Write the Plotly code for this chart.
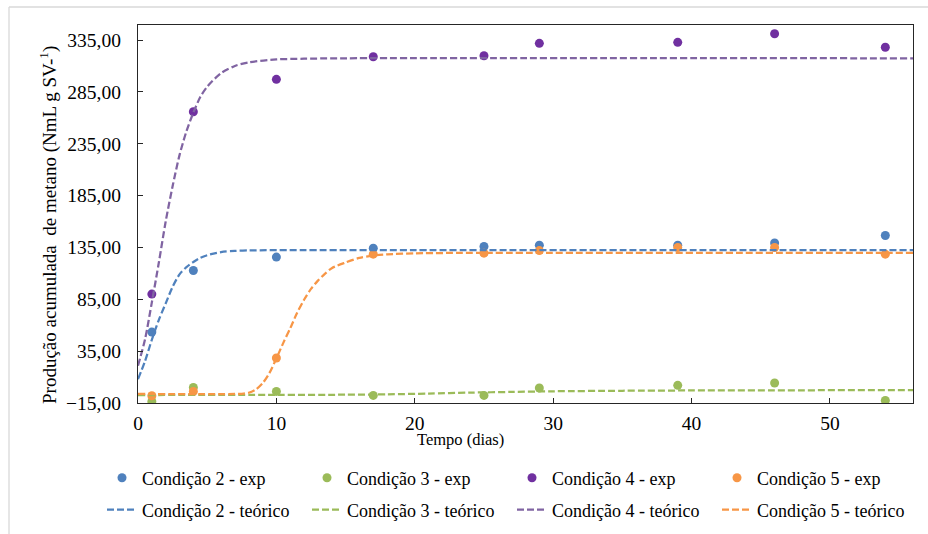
import plotly.graph_objects as go

# ---------------- data ----------------
dias = [1, 4, 10, 17, 25, 29, 39, 46, 54]

exp_c2 = [53.4, 112.8, 125.7, 134.3, 135.9, 137.2, 137.2, 139.4, 146.5]
exp_c3 = [-13.5, 0.0, -3.8, -7.7, -7.7, -0.5, 2.0, 4.3, -12.5]
exp_c4 = [90.0, 265.9, 297.1, 318.9, 319.9, 331.8, 332.8, 341.1, 328.0]
exp_c5 = [-8.0, -3.8, 28.4, 128.5, 129.5, 132.0, 134.9, 134.9, 128.5]

t_c2 = [0, 0.5, 1, 1.5, 2, 2.5, 3, 3.5, 4, 4.5, 5, 6, 7, 8, 10, 20, 56]
teo_c2 = [8, 25, 46, 65, 81, 97, 109, 116, 121, 125, 127.5, 130.5, 131.7, 132.1, 132.4, 132.4, 132.4]

t_c3 = [0, 10, 15, 18, 21, 24, 27, 30, 35, 40, 56]
teo_c3 = [-7.3, -7.2, -7.0, -6.6, -5.9, -5.0, -4.3, -3.7, -3.2, -2.9, -2.6]

t_c4 = [0, 0.5, 1, 1.5, 2, 2.5, 3, 3.5, 4, 4.5, 5, 6, 7, 8, 10, 12, 15, 56]
teo_c4 = [21, 46, 82, 120, 160, 194, 224, 247, 265, 280, 290, 303, 310, 313.5, 316.3, 317, 317.4, 317.4]

t_c5 = [0, 7, 7.5, 8, 8.5, 9, 9.5, 10, 10.5, 11, 11.5, 12, 12.5, 13, 13.5, 14, 15, 16, 17, 18, 20, 23, 56]
teo_c5 = [-6.3, -6.3, -6.1, -5.1, -2.1, 4, 14, 28, 43, 57, 72, 84.5, 95, 103, 109.5, 115, 120.5, 125, 127.2,
          128.3, 129.3, 129.7, 129.8]

nomes_exp = ["Condição 2 - exp", "Condição 3 - exp", "Condição 4 - exp", "Condição 5 - exp"]
nomes_teo = ["Condição 2 - teórico", "Condição 3 - teórico", "Condição 4 - teórico", "Condição 5 - teórico"]

y_ticks = [-15, 35, 85, 135, 185, 235, 285, 335]
x_ticks = [0, 10, 20, 30, 40, 50]

# ---------------- styling ----------------
cor_pts = ["#4F81BD", "#9BBB59", "#7030A0", "#F79646"]
cor_lin = ["#4F81BD", "#9BBB59", "#8064A2", "#F79646"]
FONT = "Liberation Serif, Times New Roman, serif"

fig = go.Figure()

for nome, ys, c in zip(nomes_exp, [exp_c2, exp_c3, exp_c4, exp_c5], cor_pts):
    fig.add_trace(go.Scatter(x=dias, y=ys, mode="markers", name=nome, legend="legend",
                             marker=dict(color=c, size=9, line=dict(width=0))))

for nome, ts, ys, c in zip(nomes_teo, [t_c2, t_c3, t_c4, t_c5],
                           [teo_c2, teo_c3, teo_c4, teo_c5], cor_lin):
    fig.add_trace(go.Scatter(x=ts, y=ys, mode="lines", name=nome, legend="legend2",
                             line=dict(color=c, width=2.25, dash="7px,3px",
                                       shape="spline", smoothing=0.8)))

L, R, T, B = 138, 15, 25, 131
W, H = 928, 534
pw = W - L - R
ph = H - T - B


def px_x(p):
    return (p - L) / pw


def px_y(p):
    return (H - B - p) / ph


leg_common = dict(orientation="h", xanchor="left", yanchor="middle",
                  entrywidth=160, entrywidthmode="pixels",
                  font=dict(family=FONT, size=18, color="black"),
                  bgcolor="rgba(0,0,0,0)", traceorder="normal")

fig.update_layout(
    width=W, height=H,
    margin=dict(l=L, r=R, t=T, b=B, autoexpand=False),
    paper_bgcolor="white", plot_bgcolor="white",
    font=dict(family=FONT, size=18, color="black"),
    separators=",.",
    showlegend=True,
    legend=dict(x=px_x(102), y=px_y(478), **leg_common),
    legend2=dict(x=px_x(102), y=px_y(510), **leg_common),
    xaxis=dict(range=[0, 56], tickvals=x_ticks, ticks="inside", ticklen=5, tickcolor="#262626",
               showline=True, linecolor="#262626", linewidth=1.3, mirror=True, automargin=False,
               showgrid=False, zeroline=False, tickfont=dict(family=FONT, size=19.5, color="black"),
               ticklabelstandoff=2),
    yaxis=dict(range=[-15, 349.5], tickvals=y_ticks, tickformat=".2f", ticks="inside", ticklen=5,
               tickcolor="#262626", showline=True, linecolor="#262626", linewidth=1.3, mirror=True,
               automargin=False, showgrid=False, zeroline=False,
               tickfont=dict(family=FONT, size=19.5, color="black"), ticklabelstandoff=12),
    annotations=[
        dict(text="Tempo (dias)", x=px_x(460), y=px_y(439), xref="paper", yref="paper",
             xanchor="center", yanchor="middle", showarrow=False,
             font=dict(family=FONT, size=16.5, color="black")),
        dict(text="Produção acumulada \u00a0de metano (NmL g SV-<sup>1</sup>)", x=px_x(48), y=px_y(225),
             xref="paper", yref="paper", xanchor="center", yanchor="middle", textangle=-90,
             showarrow=False, font=dict(family=FONT, size=19, color="black")),
    ],
    shapes=[
        dict(type="line", xref="paper", yref="paper", x0=px_x(9), x1=px_x(940), y0=px_y(7), y1=px_y(7),
             line=dict(color="#D9D9D9", width=1.3)),
        dict(type="line", xref="paper", yref="paper", x0=px_x(9), x1=px_x(9), y0=px_y(7), y1=px_y(560),
             line=dict(color="#D9D9D9", width=1.3)),
    ],
)

fig.write_html("out.html", config={"displayModeBar": False},
               post_script="document.body.style.margin='0px';")
